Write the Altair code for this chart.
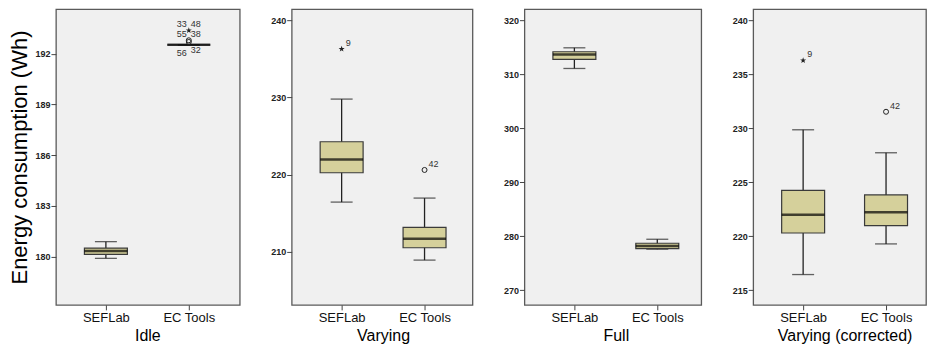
import altair as alt
import pandas as pd

panels = ["Idle", "Varying", "Full", "Varying (corrected)"]
groups = ["SEFLab", "EC Tools"]

# five-number summaries per panel: [SEFLab, EC Tools]
whisker_low = [[179.90, 192.53], [216.43, 208.90], [311.10, 277.60], [216.45, 219.29]]
q1 = [[180.14, 192.53], [220.24, 210.50], [312.80, 277.70], [220.30, 220.98]]
median = [[180.34, 192.53], [221.97, 211.67], [313.70, 278.20], [222.00, 222.22]]
q3 = [[180.51, 192.53], [224.26, 213.15], [314.20, 278.70], [224.26, 223.83]]
whisker_high = [[180.89, 192.53], [229.80, 216.95], [314.93, 279.44], [229.87, 227.74]]

# outliers
out_panel = [0, 0, 0, 1, 1, 3, 3]
out_group = ["EC Tools", "EC Tools", "EC Tools", "SEFLab", "EC Tools", "SEFLab", "EC Tools"]
out_value = [193.38, 192.80, 192.70, 236.30, 220.60, 236.30, 231.54]
out_kind = ["extreme", "outlier", "outlier", "extreme", "outlier", "extreme", "outlier"]

# case labels
lab_panel = [0, 0, 0, 0, 0, 0, 1, 1, 3, 3]
lab_group = ["EC Tools"] * 6 + ["SEFLab", "EC Tools", "SEFLab", "EC Tools"]
lab_value = [193.78, 193.78, 193.18, 193.18, 192.04, 192.24, 236.30, 220.60, 236.30, 231.54]
lab_text = ["33", "48", "55", "38", "56", "32", "9", "42", "9", "42"]
lab_side = ["left", "right", "left", "right", "left", "right", "upright", "upright", "upright", "upright"]

# axis settings per panel
y_domains = [[177.15, 194.64], [203.09, 241.47], [267.28, 322.09], [213.64, 241.05]]
y_ticks = [[180, 183, 186, 189, 192], [210, 220, 230, 240],
           [270, 280, 290, 300, 310, 320], [215, 220, 225, 230, 235, 240]]
widths = [184, 181, 177, 173]

FONT = "Liberation Sans"
BOX_FILL = "#d5d09b"
DARK = "#222222"
STAR = "M0,-1L0.24,-0.33L0.95,-0.31L0.38,0.12L0.59,0.81L0,0.4L-0.59,0.81L-0.38,0.12L-0.95,-0.31L-0.24,-0.33Z"

side_style = {"left": (-2, "right", 0), "right": (2, "left", 0), "upright": (4, "left", -6)}


def build_panel(i):
    box_df = pd.DataFrame({
        "group": groups,
        "lo": whisker_low[i],
        "q1": q1[i],
        "med": median[i],
        "q3": q3[i],
        "hi": whisker_high[i],
    })
    out_df = pd.DataFrame({"panel": out_panel, "group": out_group,
                           "value": out_value, "kind": out_kind})
    out_df = out_df[out_df.panel == i]
    lab_df = pd.DataFrame({"panel": lab_panel, "group": lab_group, "value": lab_value,
                           "text": lab_text, "side": lab_side})
    lab_df = lab_df[lab_df.panel == i]

    xenc = alt.X("group:N", sort=groups,
                 scale=alt.Scale(type="point", range=[50, 133], padding=0),
                 axis=alt.Axis(title=panels[i], labelAngle=0))
    yscale = alt.Scale(domain=y_domains[i], nice=False, zero=False)
    yaxis = alt.Axis(values=y_ticks[i], grid=False,
                     title="Energy consumption (Wh)" if i == 0 else None)

    base = alt.Chart(box_df)
    whisk = base.mark_rule(color=DARK, strokeWidth=1.3).encode(
        x=xenc, y=alt.Y("lo:Q", scale=yscale, axis=yaxis), y2="hi:Q")
    cap_lo = base.mark_tick(color=DARK, size=22, thickness=1.3).encode(x=xenc, y="lo:Q")
    cap_hi = base.mark_tick(color=DARK, size=22, thickness=1.3).encode(x=xenc, y="hi:Q")
    box = base.mark_bar(size=43, fill=BOX_FILL, stroke="#3a3a3a", strokeWidth=1.2).encode(
        x=xenc, y="q1:Q", y2="q3:Q")
    med = base.mark_tick(color="#000000", size=43, thickness=2.5).encode(x=xenc, y="med:Q")

    layers = [whisk, cap_lo, cap_hi, box, med]

    if len(out_df):
        ext = alt.Chart(out_df[out_df.kind == "extreme"]).mark_point(
            shape=STAR, filled=True, color=DARK, size=40, opacity=1).encode(x=xenc, y="value:Q")
        outl = alt.Chart(out_df[out_df.kind == "outlier"]).mark_point(
            shape="circle", filled=False, color=DARK, size=25, strokeWidth=1, opacity=1).encode(
            x=xenc, y="value:Q")
        layers += [ext, outl]
    for side, (dx, align, dy) in side_style.items():
        sub = lab_df[lab_df.side == side]
        if len(sub):
            layers.append(alt.Chart(sub).mark_text(
                font=FONT, fontSize=9, color="#333333", align=align, dx=dx, dy=dy,
                baseline="middle").encode(x=xenc, y="value:Q", text="text:N"))

    return alt.layer(*layers).properties(width=widths[i], height=296)


chart = alt.hconcat(*[build_panel(i) for i in range(4)], spacing=52, bounds="flush").properties(
    padding={"left": 0, "top": 0, "right": 0, "bottom": 0}
).configure_view(
    fill="#f0f0f0", stroke="#5a5a5a", strokeWidth=1.3
).configure_axisX(
    domain=False, tickColor="#444444", tickSize=5, labelFont=FONT, labelFontSize=13,
    labelColor="#111111", labelPadding=2, titleFont=FONT, titleFontSize=16,
    titleFontWeight="normal", titleColor="#000000", titlePadding=3
).configure_axisY(
    domain=False, tickColor="#444444", tickSize=5, labelFont=FONT, labelFontSize=9,
    labelFontWeight="bold", labelColor="#222222", labelPadding=1, titleFont=FONT,
    titleFontSize=22, titleFontWeight="normal", titleColor="#000000", titlePadding=3
)

chart.save("out.html", embed_options={"renderer": "svg", "actions": False})
